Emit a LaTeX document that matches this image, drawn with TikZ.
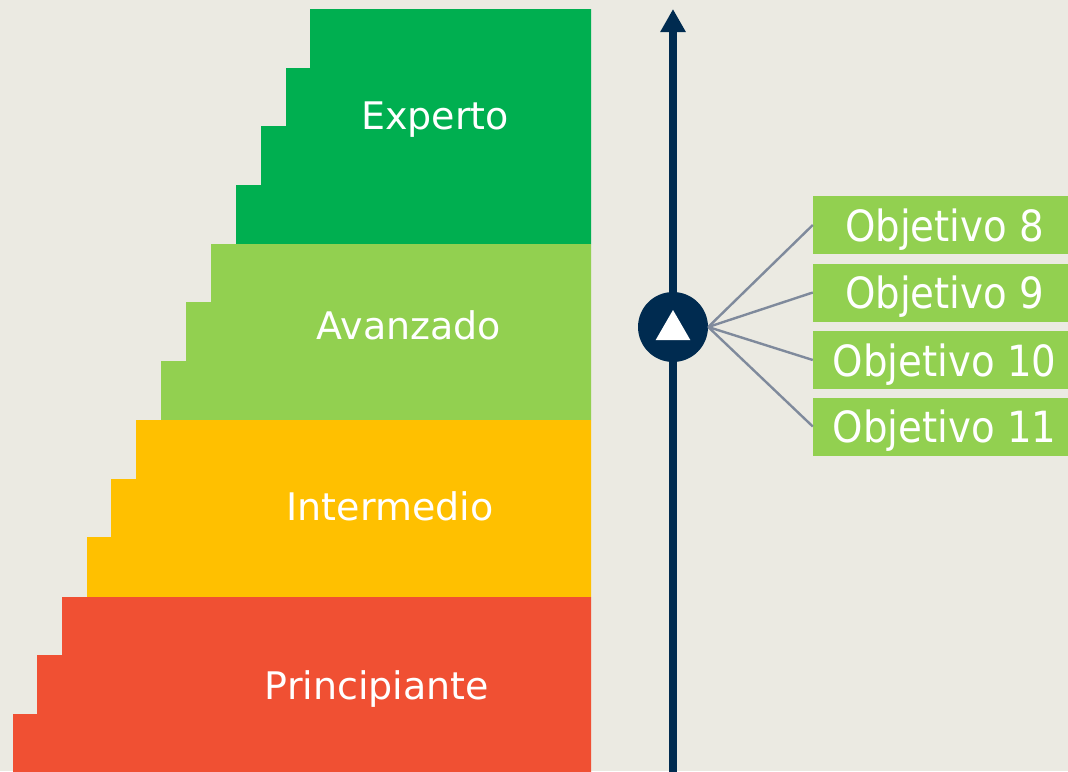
\documentclass[tikz,border=0pt]{standalone}
\usepackage{fontspec}
\setmainfont{DejaVu Sans}
\newfontfamily\objfont{DejaVu Sans Condensed}
\usepackage{tikz}
\usetikzlibrary{arrows.meta,shapes.geometric}
\definecolor{fondo}{HTML}{EBEAE2}
\definecolor{verdeoscuro}{HTML}{00AF50}
\definecolor{verdeclaro}{HTML}{92D050}
\definecolor{amarillo}{HTML}{FFC000}
\definecolor{rojo}{HTML}{F05033}
\definecolor{marino}{HTML}{002B50}
\definecolor{gris}{HTML}{7F8A9C}
\tikzstyle{nivel} = [text=white, anchor=base, inner sep=0pt, font=\fontsize{38}{46}\selectfont]
\tikzstyle{objetivo} = [fill=verdeclaro, text=white, minimum width=263pt, minimum height=58pt, inner sep=0pt, text height=32pt, text depth=0pt, font=\objfont\fontsize{43}{50}\selectfont]
\tikzstyle{hito} = [circle, fill=marino, minimum size=70pt, inner sep=0pt]
\tikzstyle{flecha} = [regular polygon, regular polygon sides=3, fill=white, minimum size=40pt, inner sep=0pt]
\tikzstyle{enlace} = [draw=gris, line width=2.4pt]
\tikzstyle{eje} = [draw=marino, line width=8.5pt, -{Triangle[width=24pt,length=23pt]}]

\begin{document}
\begin{tikzpicture}[x=1pt,y=-1pt]
    \fill[fondo] (0,0) rectangle (1068,771);
    \useasboundingbox (0,0) rectangle (1068,771);
    \clip (0,0) rectangle (1068,771);
    % escalera de niveles
    \fill[verdeoscuro] (591,9) -- (310,9) |- (286,68) |- (261,126) |- (236,185) |- (591,244) -- cycle;
    \fill[verdeclaro] (591,244) -- (211,244) |- (186,302) |- (161,361) |- (591,420) -- cycle;
    \fill[amarillo] (591,420) -- (136,420) |- (111,479) |- (87,537) |- (591,597) -- cycle;
    \fill[rojo] (591,597) -- (62,597) |- (37,655) |- (13,714) |- (591,775) -- cycle;
    \node (Experto) [nivel] at (435,129) {Experto};
    \node (Avanzado) [nivel] at (409,339) {Avanzado};
    \node (Intermedio) [nivel] at (390,520) {Intermedio};
    \node (Principiante) [nivel] at (377,699) {Principiante};
    % eje vertical
    \coordinate (ejeinf) at (673,775);
    \coordinate (ejesup) at (673,9);
    \draw[eje] (ejeinf) -- (ejesup);
    \node (hito) [hito] at (673,327) {};
    \node (punta) [flecha] at (673,330) {};
    % objetivos
    \node (obj8) [objetivo] at (944.5,225) {Objetivo 8};
    \node (obj9) [objetivo] at (944.5,292.5) {Objetivo 9};
    \node (obj10) [objetivo] at (944.5,360) {Objetivo 10};
    \node (obj11) [objetivo] at (944.5,426.5) {Objetivo 11};
    \draw[enlace] (hito.east) -- (obj8.west);
    \draw[enlace] (hito.east) -- (obj9.west);
    \draw[enlace] (hito.east) -- (obj10.west);
    \draw[enlace] (hito.east) -- (obj11.west);
\end{tikzpicture}
\end{document}
